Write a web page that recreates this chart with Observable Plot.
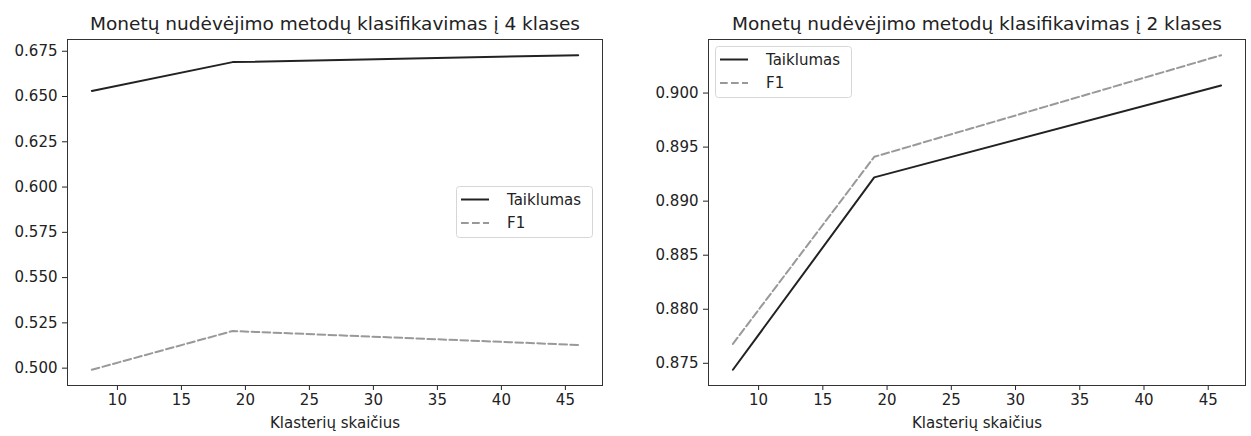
<!DOCTYPE html>
<html><head><meta charset="utf-8">
<script src="https://cdn.jsdelivr.net/npm/d3@7"></script>
<script src="https://cdn.jsdelivr.net/npm/@observablehq/plot@0.6"></script>
<style>
body{margin:0;background:#fff;}
#wrap{position:relative;width:1251px;height:436px;overflow:hidden;font-family:"DejaVu Sans",sans-serif;background:#fff;}
.panel{position:absolute;top:0;}
.legend{position:absolute;}
</style></head><body><div id="wrap"></div>
<script>
const clusters = [8, 19, 46];
const acc4 = [0.6531, 0.6690, 0.6728];
const f1_4 = [0.4991, 0.5205, 0.5128];
const acc2 = [0.8744, 0.8922, 0.9007];
const f1_2 = [0.8768, 0.8941, 0.9035];
const xTicks = [10, 15, 20, 25, 30, 35, 40, 45];
const yTicks4 = [0.500, 0.525, 0.550, 0.575, 0.600, 0.625, 0.650, 0.675];
const yTicks2 = [0.875, 0.880, 0.885, 0.890, 0.895, 0.900];
const titles = ["Monetų nudėvėjimo metodų klasifikavimas į 4 klases", "Monetų nudėvėjimo metodų klasifikavimas į 2 klases"];
const xLabel = "Klasterių skaičius";
const seriesNames = ["Taiklumas", "F1"];
const seriesColors = ["#222222", "#999999"];
const seriesDash = [null, "7.7,3.3"];

function pad(vals){const lo=d3.min(vals),hi=d3.max(vals),m=(hi-lo)*0.05;return [lo-m,hi+m];}

const wrap = document.getElementById("wrap");

function panel({left, width, mL, mR, title, acc, f1, yTicks, legendPos}){
  const rows = clusters.map((c,i)=>({x:c, acc:acc[i], f1:f1[i]}));
  const p = Plot.plot({
    width, height: 436, marginLeft: mL, marginRight: mR, marginTop: 39, marginBottom: 51,
    style: {fontFamily: "DejaVu Sans", fontSize: "15px", color: "#222", background: "white", overflow: "visible"},
    x: {domain: pad(clusters)},
    y: {domain: pad([...acc, ...f1])},
    marks: [
      Plot.axisX({ticks: xTicks, tickSize: 5, tickPadding: 4, label: null, tickFormat: d => String(d)}),
      Plot.axisY({ticks: yTicks, tickSize: 5, tickPadding: 5, label: null, tickFormat: d3.format(".3f")}),
      Plot.line(rows, {x: "x", y: "acc", stroke: seriesColors[0], strokeWidth: 2}),
      Plot.line(rows, {x: "x", y: "f1", stroke: seriesColors[1], strokeWidth: 2, strokeDasharray: seriesDash[1]}),
      Plot.frame({stroke: "#333", strokeWidth: 1}),
      Plot.text([title], {text: d => d, frameAnchor: "top", dy: -10, lineAnchor: "bottom", fontSize: 18.5, fill: "#222"}),
      Plot.text([xLabel], {text: d => d, frameAnchor: "bottom", dy: 32, lineAnchor: "top", fontSize: 15, fill: "#222"})
    ]
  });
  const d = document.createElement("div");
  d.className = "panel"; d.style.left = left + "px";
  d.appendChild(p);
  wrap.appendChild(d);

  // legend
  const lw = 137, lh = 52;
  const svg = d3.create("svg").attr("class","legend").attr("width", lw).attr("height", lh)
    .style("left", legendPos[0] + "px").style("top", legendPos[1] + "px");
  svg.append("rect").attr("x",0.5).attr("y",0.5).attr("width",lw-1).attr("height",lh-1)
    .attr("rx",3).attr("fill","rgba(255,255,255,0.8)").attr("stroke","#d6d6d6");
  seriesNames.forEach((name,i)=>{
    const cy = 13.5 + i*23.5;
    svg.append("line").attr("x1",5).attr("x2",33).attr("y1",cy).attr("y2",cy)
      .attr("stroke",seriesColors[i]).attr("stroke-width",2)
      .attr("stroke-dasharray", seriesDash[i]);
    svg.append("text").attr("x",51).attr("y",cy).attr("dy","0.35em")
      .attr("font-family","DejaVu Sans").attr("font-size","15px").attr("fill","#222").text(name);
  });
  wrap.appendChild(svg.node());
}

panel({left: 0, width: 626, mL: 67, mR: 24, title: titles[0], acc: acc4, f1: f1_4, yTicks: yTicks4, legendPos: [456, 186]});
panel({left: 626, width: 625, mL: 82, mR: 6, title: titles[1], acc: acc2, f1: f1_2, yTicks: yTicks2, legendPos: [715, 46]});
</script>
</body></html>
